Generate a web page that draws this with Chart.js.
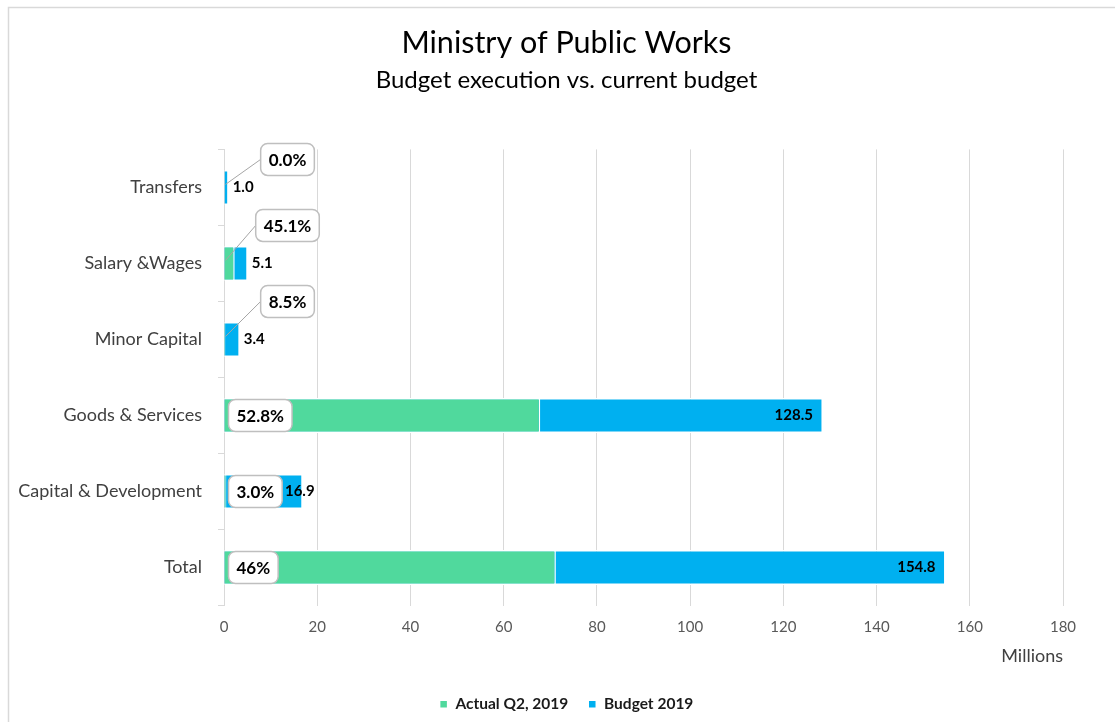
<!DOCTYPE html>
<html>
<head>
<meta charset="utf-8">
<title>Ministry of Public Works</title>
<script src="https://cdn.jsdelivr.net/npm/chart.js@4"></script>
<style>
  html, body { margin: 0; padding: 0; background: #fff; }
</style>
</head>
<body>
<canvas id="budgetChart" width="1115" height="722"></canvas>
<script>
const categories = ['Transfers', 'Salary &Wages', 'Minor Capital', 'Goods & Services', 'Capital & Development', 'Total'];
const budget2019 = [1.0, 5.1, 3.4, 128.5, 16.9, 154.8];
const actualQ2 = [0.0, 2.3, 0.29, 67.85, 0.51, 71.2];
const pctDecimals = [1, 1, 1, 1, 1, 0];
const xMin = 0;
const xMax = 180;
const xStep = 20;

const GREEN = '#50D99D';
const BLUE = '#00B0F0';
const FONT = 'Lato';

// light grey chart frame (only its top and left edges fall inside the window)
const framePlugin = {
    id: 'frame',
    beforeDraw(chart) {
        const ctx = chart.ctx;
        ctx.save();
        ctx.fillStyle = '#fff';
        ctx.fillRect(0, 0, chart.width, chart.height);
        ctx.strokeStyle = '#d9d9d9';
        ctx.lineWidth = 1.5;
        ctx.strokeRect(8.5, 7.5, chart.width + 20, chart.height + 20);
        ctx.restore();
    }
};

// budget figures at the bar ends, execution share in rounded boxes
const labelPlugin = {
    id: 'barLabels',
    afterDatasetsDraw(chart) {
        const ctx = chart.ctx;
        const area = chart.chartArea;
        const budgetMeta = chart.getDatasetMeta(1);
        ctx.save();
        ctx.textBaseline = 'middle';
        budgetMeta.data.forEach((bar, i) => {
            const end = bar.x;
            const base = bar.base;
            const y = bar.y;
            const len = end - base;

            ctx.font = `bold 15px ${FONT}`;
            ctx.fillStyle = '#000';
            const valTxt = budget2019[i].toFixed(1);
            if (len < 40) {
                ctx.textAlign = 'left';
                ctx.fillText(valTxt, end + 4, y);
            } else if (len < 150) {
                ctx.textAlign = 'center';
                ctx.fillText(valTxt, end - 3, y);
            } else {
                ctx.textAlign = 'right';
                ctx.fillText(valTxt, end - 10, y);
            }

            const pct = actualQ2[i] / budget2019[i] * 100;
            const pctTxt = pct.toFixed(pctDecimals[i]) + '%';
            ctx.font = `bold 17px ${FONT}`;
            const w = ctx.measureText(pctTxt).width + 16;
            const h = 32;
            let left, cy;
            if (len < 50) {
                // small bars: box sits above with a leader line
                cy = Math.max(y - 38, area.top - 6 + h / 2);
                left = base + 63 - w / 2;
                ctx.strokeStyle = '#a6a6a6';
                ctx.lineWidth = 1;
                ctx.beginPath();
                ctx.moveTo(base + 1, y - 3);
                ctx.lineTo(left, cy);
                ctx.stroke();
            } else {
                cy = y;
                left = base + 4;
            }
            ctx.beginPath();
            ctx.roundRect(left, cy - h / 2, w, h, 7);
            ctx.fillStyle = '#fff';
            ctx.fill();
            ctx.strokeStyle = '#bfbfbf';
            ctx.lineWidth = 1.5;
            ctx.stroke();
            ctx.fillStyle = '#000';
            ctx.textAlign = 'center';
            ctx.fillText(pctTxt, left + w / 2, cy + 1);
        });
        ctx.restore();
    }
};

const barStyle = {
    borderColor: '#fff',
    borderWidth: 1.5,
    borderSkipped: 'start',
    grouped: false,
    barPercentage: 0.46,
    categoryPercentage: 1
};

new Chart(document.getElementById('budgetChart'), {
    type: 'bar',
    data: {
        labels: categories,
        datasets: [
            { label: 'Actual Q2, 2019', data: actualQ2, backgroundColor: GREEN, ...barStyle },
            { label: 'Budget 2019', data: budget2019, backgroundColor: BLUE, ...barStyle }
        ]
    },
    options: {
        indexAxis: 'y',
        responsive: false,
        animation: false,
        layout: { padding: { left: 18, right: 0, top: 0, bottom: 0 } },
        scales: {
            x: {
                min: xMin,
                max: xMax,
                ticks: { stepSize: xStep, color: '#595959', font: { family: FONT, size: 15 }, padding: 13 },
                grid: { color: '#d9d9d9', drawTicks: false },
                border: { display: false },
                title: {
                    display: true,
                    text: 'Millions',
                    align: 'end',
                    color: '#404040',
                    font: { family: FONT, size: 18 },
                    padding: { top: 4, bottom: 10 }
                },
                afterFit: scale => { scale.height = 71; }
            },
            y: {
                grid: { drawOnChartArea: false, color: '#d9d9d9', tickLength: 6 },
                border: { color: '#d9d9d9' },
                ticks: { color: '#404040', font: { family: FONT, size: 18 }, padding: 16 },
                afterFit: scale => { scale.width = 206; }
            },
            // empty right-hand margin so the plot ends at 180 with room to spare
            yMargin: {
                type: 'linear',
                axis: 'y',
                position: 'right',
                grid: { display: false },
                ticks: { display: false },
                border: { display: false },
                afterFit: scale => { scale.width = 52; }
            }
        },
        plugins: {
            title: {
                display: true,
                text: 'Ministry of Public Works',
                color: '#000',
                font: { family: FONT, size: 30.5, weight: 'normal' },
                padding: { top: 25, bottom: 4 }
            },
            subtitle: {
                display: true,
                text: 'Budget execution vs. current budget',
                color: '#000',
                font: { family: FONT, size: 24, weight: 'normal' },
                padding: { top: 0, bottom: 55 }
            },
            legend: {
                position: 'bottom',
                labels: {
                    usePointStyle: true,
                    pointStyle: 'rect',
                    pointStyleWidth: 8,
                    boxHeight: 8,
                    color: '#1a1a1a',
                    font: { family: FONT, size: 15.5, weight: 'bold' },
                    padding: 20
                }
            },
            tooltip: { enabled: false }
        }
    },
    plugins: [framePlugin, labelPlugin]
});
</script>
</body>
</html>
